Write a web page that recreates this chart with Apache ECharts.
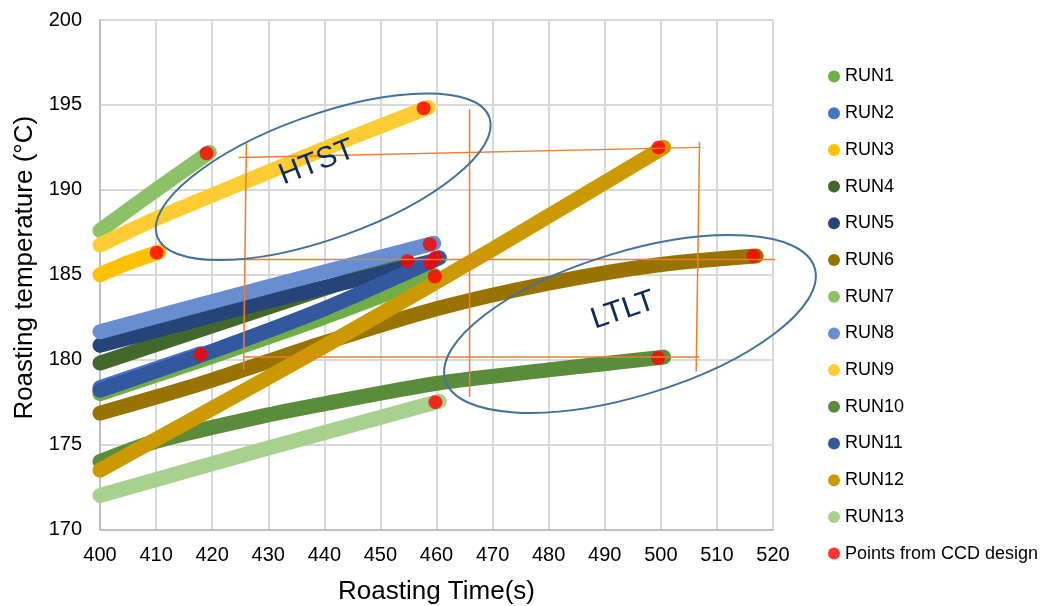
<!DOCTYPE html>
<html>
<head>
<meta charset="utf-8">
<script src="https://cdn.jsdelivr.net/npm/echarts@6/dist/echarts.min.js"></script>
<style>
  html, body { margin: 0; padding: 0; background: #ffffff; }
  #chart { width: 1047px; height: 606px; }
</style>
</head>
<body>
<div id="chart"></div>
<script>
// Axis ticks
const xTicks = [400, 410, 420, 430, 440, 450, 460, 470, 480, 490, 500, 510, 520];
const yTicks = [170, 175, 180, 185, 190, 195, 200];

// Roasting profiles: [time (s), temperature (°C)]
const run1  = [[400, 178.0], [420, 180.2], [440, 182.5], [459.7, 184.95]];
const run2  = [[400, 178.35], [418, 180.35]];
const run3  = [[400, 185.0], [405, 185.7], [410.5, 186.35]];
const run4  = [[400, 179.8], [430, 183.1], [454.8, 185.8]];
const run5  = [[400, 180.85], [430, 183.45], [458.8, 185.75]];
const run6  = [[400, 176.85], [410, 177.8], [420, 178.8], [430, 179.9], [440, 181.0], [460, 183.0], [480, 184.5], [500, 185.6], [517, 186.1]];
const run7  = [[400, 187.6], [410, 190.0], [419.5, 192.2]];
const run8  = [[400, 181.65], [430, 184.3], [459.5, 186.85]];
const run9  = [[400, 186.75], [410, 188.3], [430, 191.05], [445, 193.1], [458.5, 194.85]];
const run10 = [[400, 174.0], [410, 175.2], [430, 176.75], [440, 177.4], [460, 178.6], [480, 179.4], [500.5, 180.15]];
const run11 = [[400, 178.2], [420, 180.5], [440, 183.0], [460.5, 186.0]];
const run12 = [[400, 173.5], [416, 176.4], [440, 180.8], [470, 186.5], [500.5, 192.5]];
const run13 = [[400, 172.0], [430, 174.8], [460.5, 177.55]];

// Design points of the central composite design (one per run)
const ccdPoints = [[459.7, 184.9], [417.9, 180.3], [410.1, 186.3], [454.8, 185.8], [458.8, 185.7],
                   [516.5, 186.1], [419, 192.15], [458.8, 186.8], [457.7, 194.8], [499.5, 180.1],
                   [459.8, 186.0], [499.6, 192.5], [459.8, 177.5]];

const runNames = ['RUN1', 'RUN2', 'RUN3', 'RUN4', 'RUN5', 'RUN6', 'RUN7', 'RUN8', 'RUN9', 'RUN10', 'RUN11', 'RUN12', 'RUN13'];
const runData = [run1, run2, run3, run4, run5, run6, run7, run8, run9, run10, run11, run12, run13];
const runColors = ['#70AD47', '#4472C4', '#FFC000', '#43682B', '#264478', '#997300', '#8CC168',
                   '#698ED0', '#FFCD33', '#5B8C3C', '#3358A0', '#CC9A00', '#A9D18E'];
const ccdName = 'Points from CCD design';

// Guide lines of the design space, in data coordinates
const guideSegments = [
  [[424.7, 191.9], [506.9, 192.5]],
  [[426.1, 192.8], [425.6, 179.4]],
  [[465.9, 194.75], [465.9, 177.8]],
  [[506.9, 192.8], [506.3, 179.3]],
  [[417.9, 185.9], [524.0, 185.9]],
  [[425.6, 180.15], [506.9, 180.15]]
];

// Region annotations: centre in data coordinates
const regions = [
  { label: 'HTST', center: [439.8, 190.77], textAt: [438.7, 191.6] },
  { label: 'LTLT', center: [494.5, 182.1], textAt: [493.3, 182.9] }
];
const regionShapes = [
  { rx: 176.5, ry: 62, angle: 19.7 },
  { rx: 193, ry: 72, angle: 16.9 }
];

const FONT = '"Liberation Sans", Arial, sans-serif';
const chart = echarts.init(document.getElementById('chart'));

const series = [];
runNames.forEach((name, i) => {
  series.push({
    name: name,
    type: 'line',
    data: runData[i],
    showSymbol: false,
    symbol: 'circle',
    smooth: 0.25,
    silent: true,
    z: 2,
    itemStyle: { color: runColors[i] },
    lineStyle: { color: runColors[i], width: 15, cap: 'round', join: 'round' },
    emphasis: { disabled: true }
  });
});
guideSegments.forEach((seg, i) => {
  series.push({
    name: 'guide' + i,
    type: 'line',
    data: seg,
    showSymbol: false,
    silent: true,
    clip: false,
    z: 5,
    lineStyle: { color: '#ED7D31', width: 1.5 },
    emphasis: { disabled: true }
  });
});
series.push({
  name: ccdName,
  type: 'scatter',
  data: ccdPoints,
  symbol: 'circle',
  symbolSize: 14,
  silent: true,
  z: 4,
  itemStyle: { color: '#FF0000' },
  emphasis: { disabled: true }
});

chart.setOption({
  animation: false,
  backgroundColor: '#ffffff',
  textStyle: { fontFamily: FONT },
  grid: { left: 100, right: 274, top: 20, bottom: 76.5, containLabel: false, outerBoundsMode: 'none' },
  legend: {
    data: runNames.concat([ccdName]),
    orient: 'vertical',
    left: 823,
    top: 62.5,
    icon: 'circle',
    itemWidth: 12,
    itemHeight: 12,
    itemGap: 18.7,
    selectedMode: false,
    textStyle: { fontSize: 18, lineHeight: 18, color: '#000000', fontFamily: FONT }
  },
  xAxis: {
    type: 'value',
    min: xTicks[0],
    max: xTicks[xTicks.length - 1],
    interval: xTicks[1] - xTicks[0],
    name: 'Roasting Time(s)',
    nameLocation: 'middle',
    nameGap: 49,
    nameTextStyle: { fontSize: 26, color: '#000000', fontFamily: FONT },
    axisLine: { show: true, lineStyle: { color: '#BFBFBF', width: 2 } },
    axisTick: { show: false },
    axisLabel: { fontSize: 20, color: '#000000', margin: 16, fontFamily: FONT },
    splitLine: { show: true, lineStyle: { color: '#D9D9D9', width: 2 } }
  },
  yAxis: {
    type: 'value',
    min: yTicks[0],
    max: yTicks[yTicks.length - 1],
    interval: yTicks[1] - yTicks[0],
    name: 'Roasting temperature (°C)',
    nameLocation: 'middle',
    nameGap: 62,
    nameTextStyle: { fontSize: 26, color: '#000000', fontFamily: FONT, padding: [0, 0, 0, 14] },
    axisLine: { show: true, lineStyle: { color: '#BFBFBF', width: 2 } },
    axisTick: { show: false },
    axisLabel: { fontSize: 20, color: '#000000', margin: 18, fontFamily: FONT },
    splitLine: { show: true, lineStyle: { color: '#D9D9D9', width: 2 } }
  },
  series: series
});

// Ellipses and labels marking the HTST / LTLT regions
const graphics = [];
regions.forEach((r, i) => {
  const c = chart.convertToPixel({ gridIndex: 0 }, r.center);
  const t = chart.convertToPixel({ gridIndex: 0 }, r.textAt);
  const s = regionShapes[i];
  const rot = s.angle * Math.PI / 180;
  graphics.push({
    type: 'ellipse',
    x: c[0], y: c[1],
    rotation: rot,
    silent: true,
    z: 100,
    shape: { cx: 0, cy: 0, rx: s.rx, ry: s.ry },
    style: { fill: null, stroke: '#41719C', lineWidth: 2 }
  });
  graphics.push({
    type: 'text',
    x: t[0], y: t[1],
    rotation: rot + 0.03,
    silent: true,
    z: 100,
    style: {
      text: r.label,
      fontSize: 30,
      fontFamily: FONT,
      fill: '#0E2A5C',
      align: 'center',
      verticalAlign: 'middle'
    }
  });
});
chart.setOption({ graphic: graphics });
</script>
</body>
</html>
